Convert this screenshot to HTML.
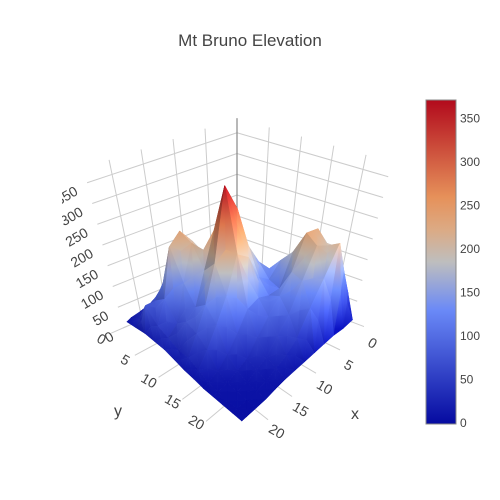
<!DOCTYPE html>
<html><head><meta charset="utf-8"><style>
body{margin:0;background:#fff;}
svg{display:block;font-family:"Liberation Sans",sans-serif;}
</style></head><body>
<svg id="c" width="500" height="500" viewBox="0 0 500 500">
<defs id="defs">
<linearGradient id="cb" x1="0" y1="1" x2="0" y2="0">
<stop offset="0" stop-color="rgb(5,10,160)"/>
<stop offset="0.35" stop-color="rgb(106,137,247)"/>
<stop offset="0.5" stop-color="rgb(190,190,190)"/>
<stop offset="0.6" stop-color="rgb(220,170,132)"/>
<stop offset="0.7" stop-color="rgb(230,145,90)"/>
<stop offset="1" stop-color="rgb(178,10,28)"/>
</linearGradient>
<clipPath id="zc"><rect x="62" y="0" width="440" height="500"/></clipPath>
</defs>
<rect width="500" height="500" fill="#fff"/>
<text x="250" y="46" text-anchor="middle" font-size="17" fill="#444">Mt Bruno Elevation</text>
<g id="axes"></g>
<g id="surf"></g>
<g id="lbl"></g>
<g id="zl" clip-path="url(#zc)"></g>
<g>
<rect x="426" y="100" width="30" height="324" fill="url(#cb)" stroke="#888" stroke-width="1"/>
<g id="cbt"></g>
</g>
</svg>
<script>
const xVals=[0,2,4,6,8,10,12,14,16,18,20,22,23];
const yVals=[0,2,4,6,8,10,12,14,16,18,20,22,24];
const zGrid=[
[10,10,15,20,25,25,30,40,60,80,90,60,5],
[15,15,20,25,30,40,50,70,110,160,180,130,5],
[20,20,25,30,40,50,80,120,170,230,200,215,10],
[20,25,30,40,60,80,110,150,180,235,215,150,10],
[25,30,40,60,90,120,150,120,110,160,150,100,10],
[30,40,60,100,140,180,200,140,110,120,90,50,10],
[30,50,90,150,160,230,300,200,120,90,60,30,10],
[30,60,120,200,180,250,365,220,110,60,30,20,10],
[30,70,150,235,220,170,200,140,70,30,20,10,8],
[25,60,110,210,140,100,120,90,40,20,10,8,5],
[20,50,80,100,60,80,70,50,20,10,8,5,5],
[15,30,80,50,40,30,30,20,10,8,5,5,5],
[10,15,20,20,20,15,10,8,5,5,5,5,5]];
const zTicks=[0,50,100,150,200,250,300,350];
const xTicks=[0,5,10,15,20];
const yTicks=[0,5,10,15,20];
const cbTicks=[0,50,100,150,200,250,300,350];
const ZMAX=372, ZTOP=385, XM=24, YM=24;
const NS='http://www.w3.org/2000/svg';
const B=[237,278],L=[123,328],R=[352,322],F=[237,428];
function P(x,y,z){const u=x/XM,v=y/YM;
 const bx=B[0]+u*(L[0]-B[0])+v*(R[0]-B[0])+u*v*(F[0]-L[0]-R[0]+B[0]);
 const by=B[1]+u*(L[1]-B[1])+v*(R[1]-B[1])+u*v*(F[1]-L[1]-R[1]+B[1]);
 const f=1+0.0009*z;const k=0.415+0.08*u*v;
 return [237+(bx-237)*f, by-k*z];}
function mk(t,a,p){const e=document.createElementNS(NS,t);for(const k in a)e.setAttribute(k,a[k]);p.appendChild(e);return e;}
const stops=[[0,[5,10,160]],[0.35,[106,137,247]],[0.5,[190,190,190]],[0.6,[220,170,132]],[0.7,[230,145,90]],[1,[178,10,28]]];
function col(v,sh){let t=Math.max(0,Math.min(1,v/ZMAX));let i=0;while(i<stops.length-2&&t>stops[i+1][0])i++;const a=stops[i],b=stops[i+1];const w=(t-a[0])/(b[0]-a[0]);const c=a[1].map((q,k)=>Math.max(0,Math.min(255,Math.round((q+(b[1][k]-q)*w)*sh))));return 'rgb('+c.join(',')+')';}
const ax=document.getElementById('axes');
function line(p,q,c,w,name){const l=mk('line',{x1:p[0],y1:p[1],x2:q[0],y2:q[1],stroke:c,'stroke-width':w},ax);}
zTicks.forEach(z=>line(P(XM,0,z),P(0,0,z),'#ccc',1,'z-grid-left'));
xTicks.forEach(x=>line(P(x,0,0),P(x,0,ZTOP),'#ccc',1,'x-grid-wall'));
zTicks.forEach(z=>line(P(0,YM,z),P(0,0,z),'#ccc',1,'z-grid-right'));
yTicks.forEach(y=>line(P(0,y,0),P(0,y,ZTOP),'#ccc',1,'y-grid-wall'));
line(P(0,0,0),P(0,0,ZTOP),'#888',1.2,'z-axis-line');
xTicks.forEach(x=>line(P(x,0,0),P(x,YM+2.5,0),'#ccc',1,'x-grid-floor'));
yTicks.forEach(y=>line(P(0,y,0),P(XM+2.5,y,0),'#ccc',1,'y-grid-floor'));
const sf=document.getElementById('surf'), defs=document.getElementById('defs');
const quads=[];
for(let i=0;i<xVals.length-1;i++)for(let j=0;j<yVals.length-1;j++)quads.push([i,j]);
quads.sort((a,b)=>(a[0]+a[1])-(b[0]+b[1]));
let gid=0;
quads.forEach(([i,j])=>{
 const c=[[i,j],[i+1,j],[i+1,j+1],[i,j+1]];
 const vs=c.map(([a,b])=>({x:xVals[a],y:yVals[b],z:zGrid[a][b]}));
 const ctr={x:(vs[0].x+vs[2].x)/2,y:(vs[0].y+vs[2].y)/2,z:vs.reduce((s,q)=>s+q.z,0)/4};
 const dzx=(zGrid[i+1][j]+zGrid[i+1][j+1]-zGrid[i][j]-zGrid[i][j+1])/2;
 const dzy=(zGrid[i][j+1]+zGrid[i+1][j+1]-zGrid[i][j]-zGrid[i+1][j])/2;
 let sh=1+(dzx*0.0012-dzy*0.0015);sh=Math.max(0.72,Math.min(1.2,sh));
 // triangles ordered back to front
 const tris=[[0,1],[3,0],[1,2],[2,3]];
 tris.forEach(([a,b])=>{
  const tv=[vs[a],vs[b],ctr];
  const pp=tv.map(q=>P(q.x,q.y,q.z));
  let lo=0,hi=0;tv.forEach((q,k)=>{if(q.z<tv[lo].z)lo=k;if(q.z>tv[hi].z)hi=k;});
  let fill;
  if(tv[hi].z-tv[lo].z<4){fill=col(tv[hi].z,sh);}
  else{
   const id='g'+(gid++);
   const g=mk('linearGradient',{id:id,gradientUnits:'userSpaceOnUse',x1:pp[lo][0],y1:pp[lo][1],x2:pp[hi][0],y2:pp[hi][1]},defs);
   mk('stop',{offset:0,'stop-color':col(tv[lo].z,sh)},g);
   mk('stop',{offset:0.5,'stop-color':col((tv[lo].z+tv[hi].z)/2,sh)},g);
   mk('stop',{offset:1,'stop-color':col(tv[hi].z,sh)},g);
   fill='url(#'+id+')';
  }
  const p=mk('polygon',{points:pp.map(q=>q[0].toFixed(1)+','+q[1].toFixed(1)).join(' '),fill:fill,stroke:fill,'stroke-width':0.5,'stroke-linejoin':'round'},sf);
  
  
 });
});
const lb=document.getElementById('lbl'), zl=document.getElementById('zl');
function txt(s,p,rot,size,name,anchor,par){const t=mk('text',{x:p[0],y:p[1],'font-size':size,fill:'#444','text-anchor':anchor||'middle','dominant-baseline':'middle',transform:'rotate('+rot+' '+p[0]+' '+p[1]+')'},par||lb);t.textContent=s;}
yTicks.forEach(y=>{const q=P(XM,y,0);txt(String(y),[q[0]-22,q[1]+12],30,14,'y-tick-label');});
xTicks.forEach(x=>{const q=P(x,YM,0);txt(String(x),[q[0]+20,q[1]+22],30,14,'x-tick-label');});
zTicks.forEach(z=>{const q=P(XM,0,z);txt(String(z),[q[0]-10,q[1]+8],-30,14,'z-tick-label','end',zl);});
txt('y',[118,412],0,16,'y-axis-title');
txt('x',[355,415],0,16,'x-axis-title');
const cb=document.getElementById('cbt');
cbTicks.forEach(v=>{const t=mk('text',{x:460,y:424-v*0.871,'font-size':12,fill:'#444','dominant-baseline':'middle'},cb);t.textContent=String(v);});
</script>
</body></html>
